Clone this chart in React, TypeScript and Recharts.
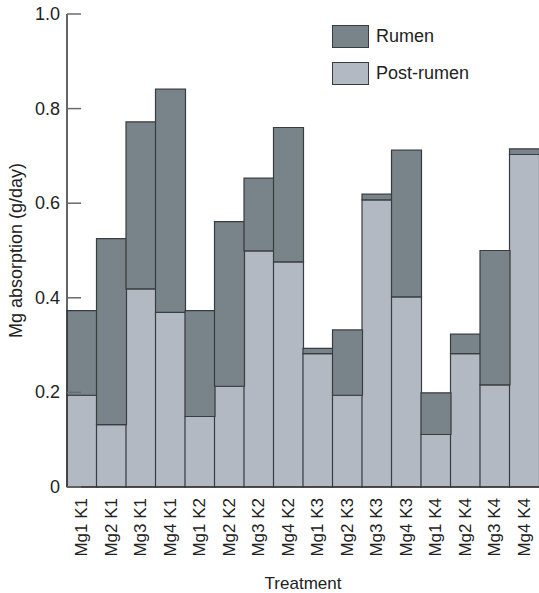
import { Bar, BarChart, Legend, XAxis, YAxis } from 'recharts'

const treatments = [
  'Mg1 K1', 'Mg2 K1', 'Mg3 K1', 'Mg4 K1',
  'Mg1 K2', 'Mg2 K2', 'Mg3 K2', 'Mg4 K2',
  'Mg1 K3', 'Mg2 K3', 'Mg3 K3', 'Mg4 K3',
  'Mg1 K4', 'Mg2 K4', 'Mg3 K4', 'Mg4 K4',
]
const postRumen = [0.194, 0.132, 0.419, 0.369, 0.149, 0.213, 0.499, 0.476, 0.282, 0.194, 0.607, 0.402, 0.111, 0.282, 0.216, 0.703]
const rumen = [0.179, 0.393, 0.353, 0.472, 0.224, 0.348, 0.154, 0.284, 0.011, 0.138, 0.012, 0.31, 0.088, 0.041, 0.284, 0.012]
const yTicks = [0, 0.2, 0.4, 0.6, 0.8, 1.0]

const data = treatments.map((t, i) => ({ treatment: t, post: postRumen[i], rumen: rumen[i] }))

const FONT = '"Liberation Sans", Arial, sans-serif'
const RUMEN = '#78838a'
const POST = '#b3b9c3'
const EDGE = '#3a3d40'

function XTick({ x, y, payload }: any) {
  return (
    <text
      x={x}
      y={y}
      transform={`rotate(-90 ${x} ${y})`}
      textAnchor="end"
      dominantBaseline="central"
      fontSize={17}
      fontFamily={FONT}
      fill="#222"
    >
      {payload.value}
    </text>
  )
}

function YTick({ x, y, payload }: any) {
  const v = payload.value
  const label = v === 0 ? '0' : v.toFixed(1)
  return (
    <g>
      <line x1={x + 7} x2={x + 21} y1={y} y2={y} stroke="#6b6b6b" strokeWidth={1.5} />
      <text x={x} y={y} textAnchor="end" dominantBaseline="central" fontSize={18} fontFamily={FONT} fill="#222">
        {label}
      </text>
    </g>
  )
}

function LegendBox() {
  const items = [
    { name: 'Rumen', color: RUMEN },
    { name: 'Post-rumen', color: POST },
  ]
  return (
    <div style={{ fontFamily: FONT, fontSize: 18, color: '#222' }}>
      {items.map((it) => (
        <div key={it.name} style={{ display: 'flex', alignItems: 'center', height: 23, marginBottom: 14 }}>
          <div style={{ width: 35, height: 21, background: it.color, border: `1px solid ${EDGE}`, marginRight: 7 }} />
          <span>{it.name}</span>
        </div>
      ))}
    </div>
  )
}

export default function App() {
  return (
    <div style={{ position: 'absolute', left: 0, top: 0 }}>
      <BarChart
        width={539}
        height={593}
        data={data}
        barCategoryGap={0}
        margin={{ top: 14, right: 0, bottom: 0, left: 0 }}
      >
        <XAxis
          dataKey="treatment"
          interval={0}
          height={106}
          tickSize={0}
          tickMargin={11}
          tick={<XTick />}
          axisLine={{ stroke: '#333', strokeWidth: 1.5 }}
          label={{ value: 'Treatment', position: 'insideBottom', offset: 4, style: { fontSize: 17, fontFamily: FONT, fill: '#222' } }}
        />
        <YAxis
          width={67}
          domain={[0, 1]}
          ticks={yTicks}
          tickSize={0}
          tickMargin={7}
          tickLine={false}
          tick={<YTick />}
          axisLine={{ stroke: '#333', strokeWidth: 1.5 }}
          label={{ value: 'Mg absorption (g/day)', angle: -90, position: 'insideLeft', offset: 16, style: { textAnchor: 'middle', fontSize: 18, fontFamily: FONT, fill: '#222' } }}
        />
        <Legend
          layout="horizontal"
          verticalAlign="middle"
          align="center"
          content={<LegendBox />}
          wrapperStyle={{ position: 'absolute', top: 25, left: 332, width: 200 }}
        />
        <Bar dataKey="post" stackId="a" fill={POST} stroke={EDGE} strokeWidth={1.2} isAnimationActive={false} />
        <Bar dataKey="rumen" stackId="a" fill={RUMEN} stroke={EDGE} strokeWidth={1.2} isAnimationActive={false} />
      </BarChart>
    </div>
  )
}
